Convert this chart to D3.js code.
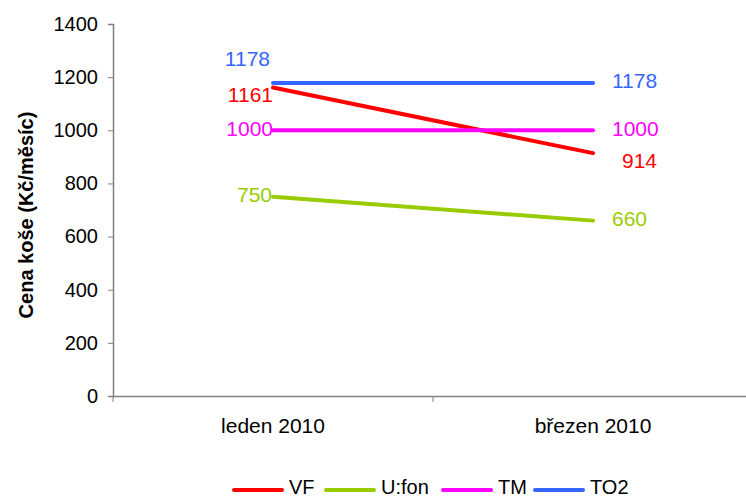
<!DOCTYPE html>
<html>
<head>
<meta charset="utf-8">
<script src="https://cdn.jsdelivr.net/npm/d3@7"></script>
<style>
  body { margin: 0; background: #fff; }
  text { font-family: "Liberation Sans", Arial, sans-serif; }
</style>
</head>
<body>
<div id="app"></div>
<script>
const categories = ['leden 2010', 'březen 2010'];
const seriesNames = ['VF', 'U:fon', 'TM', 'TO2'];
const seriesColors = ['#ff0000', '#99cc00', '#ff00ff', '#3366ff'];
const vfValues = [1161, 914];
const ufonValues = [750, 660];
const tmValues = [1000, 1000];
const to2Values = [1178, 1178];
const yTicks = [0, 200, 400, 600, 800, 1000, 1200, 1400];

const width = 746, height = 499;
const svg = d3.select('#app').append('svg').attr('width', width).attr('height', height);

const x = d3.scaleBand().domain(categories).range([113, 753]);
const y = d3.scaleLinear().domain([0, 1400]).range([396, 24]);

const series = [vfValues, ufonValues, tmValues, to2Values].map((v, i) => ({
    name: seriesNames[i], color: seriesColors[i], values: v
}));

// axes
const yAxis = svg.append('g').attr('transform', 'translate(113,0)')
    .call(d3.axisLeft(y).tickValues(yTicks).tickSize(5).tickPadding(10).tickFormat(d3.format('d')));
yAxis.selectAll('text').attr('font-size', 20).attr('fill', '#000');

const xAxis = svg.append('g').attr('transform', 'translate(0,396)')
    .call(d3.axisBottom(x).tickSize(0).tickPadding(22));
xAxis.selectAll('text').attr('font-size', 21).attr('fill', '#000');
// ticks between categories
xAxis.selectAll('.sep').data([113, 113 + x.bandwidth(), 113 + 2 * x.bandwidth()])
    .enter().append('line').attr('class', 'sep')
    .attr('x1', d => d).attr('x2', d => d).attr('y1', 0).attr('y2', 6)
    .attr('stroke', '#808080');
svg.selectAll('.domain').attr('stroke', '#808080').attr('stroke-width', 1.5);
svg.selectAll('.tick line').attr('stroke', '#808080');

svg.append('text')
    .attr('transform', 'translate(33,215) rotate(-90)')
    .attr('text-anchor', 'middle')
    .attr('font-size', 20).attr('font-weight', 'bold')
    .text('Cena koše (Kč/měsíc)');

const cx = d => x(d) + x.bandwidth() / 2;
const line = d3.line().x((d, i) => cx(categories[i])).y(d => y(d));

svg.selectAll('.series').data(series).enter().append('path')
    .attr('class', 'series')
    .attr('d', d => line(d.values))
    .attr('fill', 'none')
    .attr('stroke', d => d.color)
    .attr('stroke-width', 4)
    .attr('stroke-linecap', 'round');

// data labels: [dx, dy] offsets per series per point
const labelOffsets = {
    'VF': [[0, 6.5], [29, 7.5]],
    'U:fon': [[-1, -2.5], [19, -2.5]],
    'TM': [[0, -2], [19, -2]],
    'TO2': [[-3, -25], [19, -2.5]]
};
series.forEach(s => {
    s.values.forEach((v, i) => {
        const off = labelOffsets[s.name][i];
        svg.append('text')
            .attr('x', cx(categories[i]) + off[0])
            .attr('y', y(v) + off[1])
            .attr('dy', '0.36em')
            .attr('text-anchor', i === 0 ? 'end' : 'start')
            .attr('font-size', 21)
            .attr('fill', s.color)
            .text(v);
    });
});

// legend
const legendX = [234, 326, 443, 535];
const lg = svg.selectAll('.legend').data(series).enter().append('g')
    .attr('class', 'legend')
    .attr('transform', (d, i) => `translate(${legendX[i]},490)`);
lg.append('line').attr('x1', 0).attr('x2', 48).attr('y1', 0).attr('y2', 0)
    .attr('stroke', d => d.color).attr('stroke-width', 4).attr('stroke-linecap', 'round');
lg.append('text').attr('x', 55).attr('y', 4).attr('font-size', 20)
    .text(d => d.name);
</script>
</body>
</html>
